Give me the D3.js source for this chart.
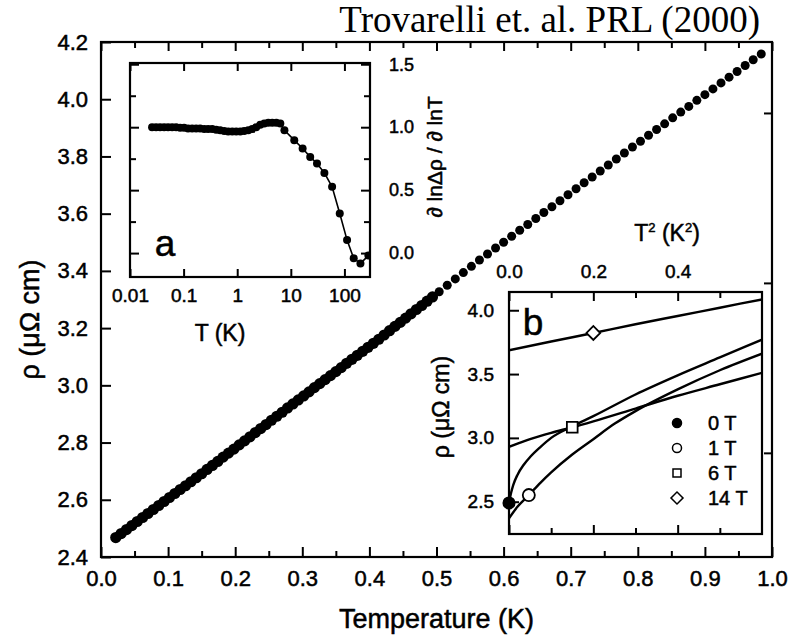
<!DOCTYPE html>
<html>
<head>
<meta charset="utf-8">
<script src="https://d3js.org/d3.v7.min.js"></script>
<style>
  body { margin: 0; background: #fff; }
  text { font-family: "Liberation Sans", Arial, sans-serif; fill: #000; stroke: #000; stroke-width: 0.5px; }
  .title { font-family: "Liberation Serif", "Times New Roman", serif; stroke-width: 0; }
  .axis path { display: none; }
  .axis line { stroke: #000; stroke-width: 2px; }
</style>
</head>
<body>
<div id="chart"></div>
<script>
var width = 792;
var height = 638;

// Main panel: resistivity vs temperature
var mainT = [0.022, 0.030, 0.038, 0.046, 0.054, 0.062, 0.070, 0.078, 0.086, 0.094, 0.102, 0.110, 0.118, 0.126, 0.134, 0.142,
             0.150, 0.158, 0.166, 0.174, 0.182, 0.190, 0.198, 0.206, 0.214, 0.222, 0.230, 0.238, 0.246, 0.254, 0.262, 0.270, 0.278, 0.286,
             0.294, 0.302, 0.310, 0.318, 0.326, 0.334, 0.342, 0.350, 0.358, 0.366, 0.374, 0.382, 0.390, 0.398, 0.406, 0.414,
             0.422, 0.430, 0.438, 0.446, 0.454, 0.462, 0.470, 0.478, 0.486, 0.494,
             0.504, 0.516, 0.528, 0.540, 0.552, 0.564, 0.576, 0.588, 0.600, 0.612, 0.624, 0.636, 0.648, 0.660, 0.672, 0.684,
             0.696, 0.708, 0.720, 0.732, 0.744, 0.756, 0.768, 0.780, 0.792, 0.804, 0.816, 0.828, 0.840, 0.852, 0.864, 0.876,
             0.888, 0.900, 0.912, 0.924, 0.936, 0.948, 0.960, 0.972, 0.984];
var mainRho = [2.468, 2.482, 2.496, 2.510, 2.524, 2.538, 2.552, 2.566, 2.580, 2.594, 2.608, 2.622, 2.636, 2.649, 2.663, 2.677,
               2.691, 2.706, 2.720, 2.734, 2.749, 2.763, 2.777, 2.792, 2.806, 2.820, 2.835, 2.849, 2.863, 2.878, 2.892, 2.906, 2.921, 2.935,
               2.949, 2.963, 2.977, 2.992, 3.006, 3.020, 3.034, 3.048, 3.062, 3.077, 3.091, 3.105, 3.119, 3.133, 3.147, 3.161,
               3.176, 3.191, 3.206, 3.220, 3.235, 3.250, 3.265, 3.279, 3.294, 3.309,
               3.327, 3.350, 3.372, 3.394, 3.416, 3.438, 3.459, 3.480, 3.500, 3.521, 3.542, 3.562, 3.583, 3.604, 3.624, 3.645,
               3.666, 3.687, 3.708, 3.728, 3.749, 3.770, 3.791, 3.812, 3.833, 3.853, 3.874, 3.894, 3.914, 3.935, 3.955, 3.975,
               3.996, 4.016, 4.036, 4.057, 4.077, 4.097, 4.118, 4.138, 4.158];

var mainXTicks = [0, 0.1, 0.2, 0.3, 0.4, 0.5, 0.6, 0.7, 0.8, 0.9, 1.0];
var mainXMinor = [0.05, 0.15, 0.25, 0.35, 0.45, 0.55, 0.65, 0.75, 0.85, 0.95];
var mainYTicks = [2.4, 2.6, 2.8, 3.0, 3.2, 3.4, 3.6, 3.8, 4.0, 4.2];
var mainRightTicks = [2.764, 3.358, 3.952];

// Inset a: d ln(delta rho) / d ln T vs T (log)
var insetAT = [0.0258, 0.0306, 0.0364, 0.0433, 0.0513, 0.061, 0.0725, 0.0861, 0.102, 0.121, 0.144, 0.171, 0.203, 0.242, 0.287,
               0.341, 0.405, 0.481, 0.571, 0.679, 0.807, 0.958, 1.14, 1.35, 1.61, 1.91, 2.26, 2.69, 3.20, 3.80, 4.51, 5.36, 6.37,
               7.6, 11.6, 16.6, 23, 30.8, 42.3, 58.9, 81.8, 112, 149, 199, 280];
var insetAVal = [1.0, 1.0, 1.0, 1.0, 1.0, 1.0, 1.0, 0.995, 0.995, 0.99, 0.99, 0.99, 0.99, 0.985, 0.985,
                 0.985, 0.98, 0.975, 0.97, 0.965, 0.965, 0.965, 0.965, 0.97, 0.975, 0.985, 1.0, 1.02, 1.03, 1.035, 1.035, 1.035, 1.03,
                 0.976, 0.897, 0.831, 0.764, 0.712, 0.637, 0.526, 0.315, 0.103, -0.042, -0.082, -0.02];
var insetAXTicks = [0.01, 0.1, 1, 10, 100];
var insetAXLabels = ["0.01", "0.1", "1", "10", "100"];
var insetAYTicks = [0, 0.5, 1.0, 1.5];
var insetAYMinor = [0.25, 0.75, 1.25];

// Inset b: rho vs T^2 for several fields
var fieldNames = ["0 T", "1 T", "6 T", "14 T"];
var b0T2 = [0, 0.005, 0.01, 0.02, 0.035, 0.05, 0.075, 0.1, 0.15, 0.2, 0.3, 0.4, 0.5, 0.6];
var b0Rho = [2.49, 2.57, 2.63, 2.71, 2.79, 2.85, 2.93, 3.0, 3.09, 3.17, 3.34, 3.49, 3.63, 3.77];
var b1T2 = [0, 0.02, 0.047, 0.075, 0.1, 0.15, 0.2, 0.25, 0.3, 0.4, 0.5, 0.6];
var b1Rho = [2.37, 2.46, 2.552, 2.65, 2.73, 2.87, 2.99, 3.11, 3.21, 3.38, 3.53, 3.66];
var b6T2 = [0, 0.025, 0.05, 0.1, 0.15, 0.2, 0.3, 0.4, 0.5, 0.6];
var b6Rho = [2.93, 2.96, 2.99, 3.04, 3.083, 3.13, 3.23, 3.33, 3.42, 3.51];
var b14T2 = [0, 0.1, 0.2, 0.3, 0.4, 0.5, 0.6];
var b14Rho = [3.687, 3.755, 3.822, 3.89, 3.955, 4.02, 4.085];
var markerT2 = [0, 0.047, 0.15, 0.2];
var markerRho = [2.49, 2.552, 3.083, 3.822];
var insetBXTicks = [0, 0.2, 0.4];
var insetBXMinor = [0.1, 0.3, 0.5];
var insetBYTicks = [2.5, 3.0, 3.5, 4.0];

var svg = d3.select("#chart")
    .append("svg")
    .attr("width", width)
    .attr("height", height);

svg.append("rect").attr("width", width).attr("height", height).attr("fill", "#fff");

// ---------- main panel ----------
var x = d3.scaleLinear().domain([0, 1]).range([101, 772]);
var y = d3.scaleLinear().domain([2.4, 4.2]).range([557, 42]);

svg.append("g").attr("class", "axis").attr("transform", "translate(0,557)")
    .call(d3.axisBottom(x).tickValues(mainXTicks).tickSize(-10).tickPadding(13).tickFormat(d3.format(".1f")))
    .selectAll("text").style("font-size", "22px");
svg.append("g").attr("class", "axis").attr("transform", "translate(0,557)")
    .call(d3.axisBottom(x).tickValues(mainXMinor).tickSize(-6).tickFormat(""));
svg.append("g").attr("class", "axis").attr("transform", "translate(0,42)")
    .call(d3.axisTop(x).tickValues(mainXTicks).tickSize(-9).tickFormat(""));
svg.append("g").attr("class", "axis").attr("transform", "translate(0,42)")
    .call(d3.axisTop(x).tickValues(mainXMinor).tickSize(-6).tickFormat(""));
svg.append("g").attr("class", "axis").attr("transform", "translate(101,0)")
    .call(d3.axisLeft(y).tickValues(mainYTicks).tickSize(-10).tickPadding(13).tickFormat(d3.format(".1f")))
    .selectAll("text").style("font-size", "22px");
svg.append("g").attr("class", "axis").attr("transform", "translate(772,0)")
    .call(d3.axisRight(y).tickValues(mainRightTicks).tickSize(-8).tickFormat(""));

svg.append("rect")
    .attr("x", x(0)).attr("y", y(4.2))
    .attr("width", x(1) - x(0)).attr("height", y(2.4) - y(4.2))
    .attr("fill", "none").attr("stroke", "#000").attr("stroke-width", 2.2);

// dense low-T part drawn as a thick band, sparser high-T part as separate dots
svg.append("g").selectAll("circle")
    .data(d3.range(mainT.length))
    .enter().append("circle")
    .attr("cx", function(i) { return x(mainT[i]); })
    .attr("cy", function(i) { return y(mainRho[i]); })
    .attr("r", function(i) { return mainT[i] < 0.5 ? 5.6 : 4.5; })
    .attr("fill", "#000");

svg.append("text")
    .attr("transform", "translate(30," + ((y(2.4) + y(4.2)) / 2 + 20) + ") rotate(-90)")
    .attr("text-anchor", "middle").attr("dominant-baseline", "central")
    .style("font-size", "27px")
    .text("\u03c1 (\u03bc\u03a9 cm)");

svg.append("text")
    .attr("x", (x(0) + x(1)) / 2).attr("y", 628)
    .attr("text-anchor", "middle")
    .style("font-size", "27px")
    .text("Temperature (K)");

svg.append("text").attr("class", "title")
    .attr("x", 760).attr("y", 32)
    .attr("text-anchor", "end")
    .style("font-size", "37px")
    .text("Trovarelli et. al. PRL (2000)");

// ---------- inset a ----------
var xa = d3.scaleLog().domain([0.01, 300]).range([130, 370]);
var ya = d3.scaleLinear().domain([-0.19, 1.51]).range([277, 63]);

svg.append("rect").attr("x", 130).attr("y", 63).attr("width", 240).attr("height", 214).attr("fill", "#fff");

var clipA = svg.append("clipPath").attr("id", "clipA");
clipA.append("rect").attr("x", 130).attr("y", 63).attr("width", 240).attr("height", 214);

svg.append("g").attr("class", "axis").attr("transform", "translate(0,277)")
    .call(d3.axisBottom(xa).tickValues(insetAXTicks).tickSize(-8).tickPadding(12)
        .tickFormat(function(d, i) { return insetAXLabels[i]; }))
    .selectAll("text").style("font-size", "19px");
svg.append("g").attr("class", "axis").attr("transform", "translate(0,63)")
    .call(d3.axisTop(xa).tickValues(insetAXTicks).tickSize(-8).tickFormat(""));
svg.append("g").attr("class", "axis").attr("transform", "translate(370,0)")
    .call(d3.axisRight(ya).tickValues(insetAYTicks).tickSize(-9).tickPadding(19).tickFormat(d3.format(".1f")))
    .selectAll("text").style("font-size", "18px");
svg.append("g").attr("class", "axis").attr("transform", "translate(370,0)")
    .call(d3.axisRight(ya).tickValues(insetAYMinor).tickSize(-6).tickFormat(""));
svg.append("g").attr("class", "axis").attr("transform", "translate(130,0)")
    .call(d3.axisLeft(ya).tickValues(insetAYTicks).tickSize(-9).tickFormat(""));
svg.append("g").attr("class", "axis").attr("transform", "translate(130,0)")
    .call(d3.axisLeft(ya).tickValues(insetAYMinor).tickSize(-6).tickFormat(""));

var lineA = d3.line()
    .x(function(i) { return xa(insetAT[i]); })
    .y(function(i) { return ya(insetAVal[i]); });

var gA = svg.append("g").attr("clip-path", "url(#clipA)");
gA.append("path")
    .datum(d3.range(insetAT.length))
    .attr("d", lineA)
    .attr("fill", "none").attr("stroke", "#000").attr("stroke-width", 1.6);
gA.selectAll("circle")
    .data(d3.range(insetAT.length))
    .enter().append("circle")
    .attr("cx", function(i) { return xa(insetAT[i]); })
    .attr("cy", function(i) { return ya(insetAVal[i]); })
    .attr("r", 4)
    .attr("fill", "#000");

svg.append("rect").attr("x", 130).attr("y", 63).attr("width", 240).attr("height", 214)
    .attr("fill", "none").attr("stroke", "#000").attr("stroke-width", 2.2);

svg.append("text").attr("x", 165).attr("y", 256).attr("text-anchor", "middle")
    .style("font-size", "37px").text("a");

svg.append("text").attr("x", 220).attr("y", 341).attr("text-anchor", "middle")
    .style("font-size", "23px").text("T (K)");

svg.append("text")
    .attr("transform", "translate(434,157) rotate(-90)")
    .attr("text-anchor", "middle").attr("dominant-baseline", "central")
    .style("font-size", "21px")
    .text("\u2202 ln\u0394\u03c1 / \u2202 lnT");

// ---------- inset b ----------
var xb = d3.scaleLinear().domain([0, 0.6]).range([509, 762]);
var yb = d3.scaleLinear().domain([2.247, 4.143]).range([534, 292]);

svg.append("rect").attr("x", 509).attr("y", 292).attr("width", 253).attr("height", 242).attr("fill", "#fff");

var clipB = svg.append("clipPath").attr("id", "clipB");
clipB.append("rect").attr("x", 509).attr("y", 292).attr("width", 253).attr("height", 242);

svg.append("g").attr("class", "axis").attr("transform", "translate(0,292)")
    .call(d3.axisTop(xb).tickValues(insetBXTicks).tickSize(-9).tickPadding(14).tickFormat(d3.format(".1f")))
    .selectAll("text").style("font-size", "19px");
svg.append("g").attr("class", "axis").attr("transform", "translate(0,292)")
    .call(d3.axisTop(xb).tickValues(insetBXMinor).tickSize(-6).tickFormat(""));
svg.append("g").attr("class", "axis").attr("transform", "translate(0,534)")
    .call(d3.axisBottom(xb).tickValues(insetBXTicks).tickSize(-9).tickFormat(""));
svg.append("g").attr("class", "axis").attr("transform", "translate(0,534)")
    .call(d3.axisBottom(xb).tickValues(insetBXMinor).tickSize(-6).tickFormat(""));
svg.append("g").attr("class", "axis").attr("transform", "translate(509,0)")
    .call(d3.axisLeft(yb).tickValues(insetBYTicks).tickSize(-10).tickPadding(15).tickFormat(d3.format(".1f")))
    .selectAll("text").style("font-size", "19px");

var curves = [[b0T2, b0Rho], [b1T2, b1Rho], [b6T2, b6Rho], [b14T2, b14Rho]];
var gB = svg.append("g").attr("clip-path", "url(#clipB)");

curves.forEach(function(c) {
    var lineB = d3.line()
        .curve(d3.curveMonotoneX)
        .x(function(i) { return xb(c[0][i]); })
        .y(function(i) { return yb(c[1][i]); });
    gB.append("path")
        .datum(d3.range(c[0].length))
        .attr("d", lineB)
        .attr("fill", "none").attr("stroke", "#000").attr("stroke-width", 2.4);
});

// marker styles per field
var symbolTypes = [d3.symbolCircle, d3.symbolCircle, d3.symbolSquare, d3.symbolSquare];
var symbolFill = ["#000", "#fff", "#fff", "#fff"];
var symbolRotate = [0, 0, 0, 45];
var symbolSize = [100, 115, 115, 95];
var legendSize = [64, 64, 64, 72];

svg.append("g").selectAll("path")
    .data(d3.range(markerT2.length))
    .enter().append("path")
    .attr("d", function(i) { return d3.symbol().type(symbolTypes[i]).size(symbolSize[i])(); })
    .attr("transform", function(i) {
        return "translate(" + xb(markerT2[i]) + "," + yb(markerRho[i]) + ") rotate(" + symbolRotate[i] + ")";
    })
    .attr("fill", function(i) { return symbolFill[i]; })
    .attr("stroke", "#000").attr("stroke-width", 1.8);

svg.append("rect").attr("x", 509).attr("y", 292).attr("width", 253).attr("height", 242)
    .attr("fill", "none").attr("stroke", "#000").attr("stroke-width", 2.2);

// legend
var legendY = d3.scalePoint().domain(fieldNames).range([423, 498]);
var legend = svg.append("g").selectAll("g")
    .data(d3.range(fieldNames.length))
    .enter().append("g")
    .attr("transform", function(i) { return "translate(677," + legendY(fieldNames[i]) + ")"; });
legend.append("path")
    .attr("d", function(i) { return d3.symbol().type(symbolTypes[i]).size(legendSize[i])(); })
    .attr("transform", function(i) { return "rotate(" + symbolRotate[i] + ")"; })
    .attr("fill", function(i) { return symbolFill[i]; })
    .attr("stroke", "#000").attr("stroke-width", 1.5);
legend.append("text")
    .attr("x", 31).attr("dy", "0.36em")
    .style("font-size", "20px")
    .text(function(i) { return fieldNames[i]; });

svg.append("text").attr("x", 533).attr("y", 335).attr("text-anchor", "middle")
    .style("font-size", "37px").text("b");

var t2Label = svg.append("text").attr("x", 667).attr("y", 241).attr("text-anchor", "middle")
    .style("font-size", "23px");
t2Label.append("tspan").text("T");
t2Label.append("tspan").attr("dy", -9).style("font-size", "13px").text("2");
t2Label.append("tspan").attr("dy", 9).text(" (K");
t2Label.append("tspan").attr("dy", -9).style("font-size", "13px").text("2");
t2Label.append("tspan").attr("dy", 9).text(")");

svg.append("text")
    .attr("transform", "translate(441,407) rotate(-90)")
    .attr("text-anchor", "middle").attr("dominant-baseline", "central")
    .style("font-size", "23px")
    .text("\u03c1 (\u03bc\u03a9 cm)");
</script>
</body>
</html>
